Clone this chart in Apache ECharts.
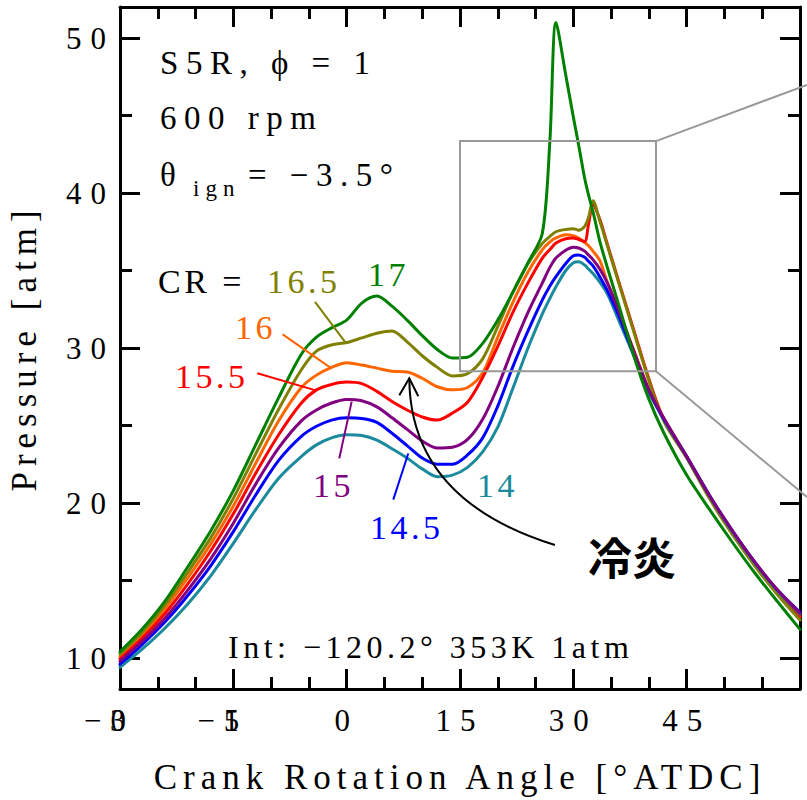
<!DOCTYPE html>
<html>
<head>
<meta charset="utf-8">
<script src="https://cdn.jsdelivr.net/npm/echarts@6/dist/echarts.min.js"></script>
<style>
  html, body { margin: 0; padding: 0; background: #fff; }
  #chart { width: 807px; height: 800px; }
  /* letter spacing of the serif lettering, keyed on its font size */
  #chart text[style*="31px"] { letter-spacing: 9px; }
  #chart text[style*="30.9px"] { letter-spacing: -15px; }
  #chart text[style*="35px"] { letter-spacing: 6px; }
  #chart text[style*="33px"] { letter-spacing: 7.5px; }
  #chart text[style*="32px"] { letter-spacing: 4.5px; }
  #chart text[style*="34px"] { letter-spacing: 3.5px; }
  #chart text[style*="23px"] { letter-spacing: 6px; }
</style>
</head>
<body>
<div id="chart"></div>
<script>
// Crank angle [deg ATDC] shared by all pressure traces
const angle = [-30, -27, -24, -21, -18, -15, -12, -9, -6, -4, -2, 0, 2, 4, 6, 8, 10, 12, 14, 16, 18, 20, 22, 24,
  25.9, 26.9, 27.7, 29, 30, 30.7, 31.5, 32, 32.6, 33.5, 34.5, 36, 38, 40, 42, 45, 48, 51, 54, 57, 60];

// Cylinder pressure [atm] for each compression ratio
const p14 = [9.4, 10.6, 11.95, 13.5, 15.3, 17.4, 19.6, 21.6, 23.0, 23.75, 24.2, 24.4, 24.35, 24.05, 23.5, 22.9, 22.2, 21.7, 21.8, 22.3, 23.3, 24.9, 27.4, 30.0,
  32.2, 33.2, 33.95, 35.0, 35.5, 35.56, 35.35, 35.1, 34.8, 34.25, 33.5, 31.8, 29.5, 27.15, 25.35, 23.0, 20.5, 18.2, 16.15, 14.35, 12.85];
const p145 = [9.6, 10.9, 12.35, 14.05, 15.95, 18.15, 20.55, 22.75, 24.3, 24.95, 25.35, 25.5, 25.45, 25.2, 24.5, 23.7, 22.9, 22.5, 22.5, 23.1, 24.2, 26.25, 28.8, 31.1,
  33.1, 34.0, 34.6, 35.45, 35.95, 36.0, 35.85, 35.6, 35.3, 34.6, 33.7, 32.1, 29.6, 27.25, 25.4, 23.0, 20.5, 18.25, 16.2, 14.4, 12.95];
const p15 = [9.8, 11.1, 12.6, 14.4, 16.4, 18.7, 21.25, 23.55, 25.3, 26.0, 26.45, 26.68, 26.6, 26.2, 25.5, 24.75, 24.0, 23.55, 23.6, 24.1, 25.4, 27.5, 30.0, 32.3,
  34.2, 35.2, 35.8, 36.3, 36.5, 36.45, 36.25, 36.0, 35.7, 35.1, 34.2, 32.4, 29.8, 27.3, 25.45, 23.0, 20.5, 18.25, 16.2, 14.4, 12.9];
const p155 = [9.95, 11.3, 12.9, 14.8, 16.9, 19.3, 21.95, 24.4, 26.45, 27.3, 27.65, 27.8, 27.7, 27.2, 26.55, 26.0, 25.55, 25.35, 25.8, 26.5, 28.1, 30.1, 32.3, 34.2,
  35.8, 36.35, 36.78, 37.05, 37.1, 37.0, 36.87, 37.95, 39.25, 38.3, 36.7, 34.3, 31.15, 28.0, 25.35, 23.0, 20.45, 18.15, 16.1, 14.3, 12.7];
const p16 = [10.1, 11.5, 13.2, 15.2, 17.35, 19.8, 22.6, 25.3, 27.45, 28.25, 28.75, 29.05, 28.9, 28.7, 28.5, 28.45, 28.05, 27.5, 27.3, 27.45, 28.4, 30.7, 32.95, 34.9,
  36.35, 36.85, 37.1, 37.3, 37.25, 37.1, 36.8, 36.6, 36.25, 35.65, 34.25, 32.45, 29.85, 27.35, 25.45, 23.0, 20.4, 18.1, 16.1, 14.3, 12.65];
const p165 = [10.25, 11.7, 13.45, 15.55, 17.75, 20.3, 23.2, 26.05, 28.6, 29.8, 30.2, 30.35, 30.65, 30.95, 31.1, 30.4, 29.5, 28.75, 28.2, 28.35, 29.3, 31.4, 33.6, 35.45,
  36.75, 37.2, 37.5, 37.65, 37.7, 37.6, 37.85, 38.4, 39.5, 38.2, 36.6, 34.2, 31.05, 27.9, 25.25, 22.9, 20.3, 18.0, 15.95, 14.1, 12.45];
const p17 = [10.4, 11.9, 13.7, 15.9, 18.2, 20.8, 23.8, 26.8, 29.6, 30.7, 31.3, 31.8, 32.9, 33.35, 32.7, 31.8, 30.8, 29.9, 29.35, 29.4, 30.3, 31.8, 33.6, 35.5,
  37.4, 43.4, 51.0, 47.6, 44.9, 43.1, 40.95, 39.9, 38.8, 36.9, 35.2, 32.8, 29.5, 26.7, 24.5, 21.8, 19.6, 17.5, 15.5, 13.65, 11.85];

const xTickLabels = [-30, -15, 0, 15, 30, 45];
const yTickLabels = [10, 20, 30, 40, 50];

const SERIF = 'Liberation Serif, Times New Roman, serif';
const CJK = 'Noto Sans CJK JP, Noto Sans CJK SC, sans-serif';
const C = {
  c14: '#1a8a9c', c145: '#0000ff', c15: '#800080', c155: '#ff0000',
  c16: '#ff6600', c165: '#808000', c17: '#008000'
};

// drawing order: lower traces first so the bundle edges show as on paper
const traces = [
  { name: 'CR 16', values: p16, color: C.c16 },
  { name: 'CR 15.5', values: p155, color: C.c155 },
  { name: 'CR 16.5', values: p165, color: C.c165 },
  { name: 'CR 14', values: p14, color: C.c14 },
  { name: 'CR 14.5', values: p145, color: C.c145 },
  { name: 'CR 15', values: p15, color: C.c15 },
  { name: 'CR 17', values: p17, color: C.c17 }
];

const chart = echarts.init(document.getElementById('chart'), null, { renderer: 'svg', width: 807, height: 800 });

const blackLine = { show: true, lineStyle: { color: '#000', width: 3 } };
const majorTick = { show: true, inside: true, length: 20, lineStyle: { color: '#000', width: 3 } };
const minorTickY = { show: true, splitNumber: 2, length: 12, lineStyle: { color: '#000', width: 3 } };
const minorTickX = { show: true, splitNumber: 3, length: 12, lineStyle: { color: '#000', width: 3 } };
const tickFont = { fontSize: 31, fontFamily: SERIF, color: '#000' };

const xRange = { min: -30, max: 60, interval: 15 };
const yRange = { min: 8, max: 52 };

const option = {
  animation: false,
  backgroundColor: '#fff',
  grid: { left: 120, right: 7, top: 7, bottom: 111, containLabel: false, outerBoundsMode: 'none' },
  xAxis: [
    {
      type: 'value', position: 'bottom', ...xRange,
      axisLine: { ...blackLine, onZero: false },
      axisTick: majorTick, minorTick: minorTickX, splitLine: { show: false },
      axisLabel: {
        ...tickFont, margin: 16,
        formatter: v => {
          if (xTickLabels.indexOf(v) < 0) return '';
          // negative labels are set tight: the two digits print on top of each other
          if (v < 0) return '{m|−}{n|' + Math.abs(v) + '}{p| }';
          return String(v);
        },
        rich: {
          m: { width: 26, align: 'left', fontSize: 31, fontFamily: SERIF, color: '#000' },
          n: { align: 'left', fontSize: 30.9, fontFamily: SERIF, color: '#000' },
          p: { width: 15, align: 'left', fontSize: 31, fontFamily: SERIF, color: '#000' }
        }
      },
      name: 'Crank Rotation Angle [°ATDC]', nameLocation: 'middle', nameGap: 71, nameMoveOverlap: false,
      nameTextStyle: { fontSize: 35, fontFamily: SERIF, color: '#000' }
    },
    {
      type: 'value', position: 'top', ...xRange,
      axisLine: { ...blackLine, onZero: false },
      axisTick: majorTick, minorTick: minorTickX, splitLine: { show: false },
      axisLabel: { show: false }
    }
  ],
  yAxis: [
    {
      type: 'value', position: 'left', ...yRange,
      axisLine: { ...blackLine, onZero: false },
      axisTick: majorTick, minorTick: minorTickY, splitLine: { show: false },
      axisLabel: {
        ...tickFont, margin: 5, padding: [6, 0, 0, 0],
        formatter: v => (yTickLabels.indexOf(v) >= 0 ? String(v) : '')
      },
      name: 'Pressure [atm]', nameLocation: 'middle', nameGap: 78, nameRotate: 90, nameMoveOverlap: false,
      nameTextStyle: { fontSize: 35, fontFamily: SERIF, color: '#000' }
    },
    {
      type: 'value', position: 'right', ...yRange,
      axisLine: { ...blackLine, onZero: false },
      axisTick: majorTick, minorTick: minorTickY, splitLine: { show: false },
      axisLabel: { show: false }
    }
  ],
  series: traces.map(t => ({
    type: 'line',
    name: t.name,
    xAxisIndex: 0,
    yAxisIndex: 0,
    data: angle.map((a, i) => [a, t.values[i]]),
    showSymbol: false,
    smooth: 0.3,
    clip: true,
    lineStyle: { color: t.color, width: 3, join: 'round', cap: 'round' },
    itemStyle: { color: t.color },
    emphasis: { disabled: true }
  }))
};

chart.setOption(option);

// ---- annotations, anchored in axis units and converted to pixels ----
const toPx = p => chart.convertToPixel({ seriesIndex: 0 }, p);

const notes = [
  { text: 'S5R, ϕ = 1', at: [-24.7, 48.4], size: 33, color: '#000' },
  { text: '600 rpm', at: [-24.7, 44.84], size: 33, color: '#000' },
  { text: 'θ', at: [-24.7, 41.16], size: 33, color: '#000' },
  { text: 'ign', at: [-20.34, 40.26], size: 23, color: '#000' },
  { text: '= −3.5°', at: [-13.06, 41.16], size: 33, color: '#000' },
  { text: 'CR =', at: [-24.97, 34.26], size: 34, color: '#000' },
  { text: '16.5', at: [-10.55, 34.26], size: 34, color: C.c165 },
  { text: '17', at: [2.82, 34.77], size: 34, color: C.c17 },
  { text: '16', at: [-14.78, 31.35], size: 34, color: C.c16 },
  { text: '15.5', at: [-22.72, 28.19], size: 34, color: C.c155 },
  { text: '15', at: [-4.46, 21.1], size: 34, color: C.c15 },
  { text: '14.5', at: [3.09, 18.45], size: 34, color: C.c145 },
  { text: '14', at: [17.25, 21.16], size: 34, color: C.c14 },
  { text: 'Int: −120.2° 353K 1atm', at: [-15.71, 10.71], size: 32, color: '#000' }
];

const leaders = [
  { from: [-4.19, 32.97], to: [-0.22, 30.39], color: C.c165 },
  { from: [-8.47, 30.88], to: [-2.21, 28.75], color: C.c16 },
  { from: [-11.83, 28.37], to: [-3.98, 27.25], color: C.c155 },
  { from: [0.66, 26.54], to: [-0.98, 22.88], color: C.c15 },
  { from: [6.17, 20.22], to: [8.15, 23.19], color: C.c145 }
];

const arrow = { from: [27.57, 17.29], ctrl: [8.38, 20.19], tip: [8.29, 28.05] };
const zoomBox = { a: [15.0, 43.35], b: [40.94, 28.5], outTop: [60.92, 46.97], outBottom: [60.92, 20.39] };

const elements = [];

notes.forEach(n => {
  const p = toPx(n.at);
  elements.push({
    type: 'text', x: p[0], y: p[1], z: 100,
    style: {
      text: n.text, fill: n.color, fontSize: n.size, fontFamily: SERIF,
      textAlign: 'left', textVerticalAlign: 'middle', align: 'left', verticalAlign: 'middle'
    }
  });
});

// 冷炎 (cool flame) callout
{
  const p = toPx([31.94, 16.58]);
  elements.push({
    type: 'text', x: p[0], y: p[1], z: 100,
    style: {
      text: '冷炎', fill: '#000', fontSize: 44, fontWeight: 'bold', fontFamily: CJK,
      textAlign: 'left', textVerticalAlign: 'middle', align: 'left', verticalAlign: 'middle'
    }
  });
}

leaders.forEach(l => {
  const a = toPx(l.from), b = toPx(l.to);
  elements.push({
    type: 'line', z: 100,
    shape: { x1: a[0], y1: a[1], x2: b[0], y2: b[1] },
    style: { stroke: l.color, lineWidth: 2 }
  });
});

{
  const s = toPx(arrow.from), c = toPx(arrow.ctrl), t = toPx(arrow.tip);
  elements.push({
    type: 'bezierCurve', z: 100,
    shape: { x1: s[0], y1: s[1], cpx1: c[0], cpy1: c[1], x2: t[0], y2: t[1] },
    style: { stroke: '#000', lineWidth: 2, fill: 'none' }
  });
  elements.push({
    type: 'polyline', z: 100,
    shape: { points: [[t[0] - 10, t[1] + 17], [t[0], t[1]], [t[0] + 9, t[1] + 18]] },
    style: { stroke: '#000', lineWidth: 2, fill: 'none' }
  });
}

{
  const a = toPx(zoomBox.a), b = toPx(zoomBox.b);
  const ot = toPx(zoomBox.outTop), ob = toPx(zoomBox.outBottom);
  elements.push({
    type: 'rect', z: 100,
    shape: { x: a[0], y: a[1], width: b[0] - a[0], height: b[1] - a[1] },
    style: { stroke: '#999', lineWidth: 2, fill: 'none' }
  });
  elements.push({
    type: 'line', z: 100,
    shape: { x1: b[0], y1: a[1], x2: ot[0], y2: ot[1] },
    style: { stroke: '#999', lineWidth: 2 }
  });
  elements.push({
    type: 'line', z: 100,
    shape: { x1: b[0], y1: b[1], x2: ob[0], y2: ob[1] },
    style: { stroke: '#999', lineWidth: 2 }
  });
}

chart.setOption({ graphic: { elements } });
</script>
</body>
</html>
